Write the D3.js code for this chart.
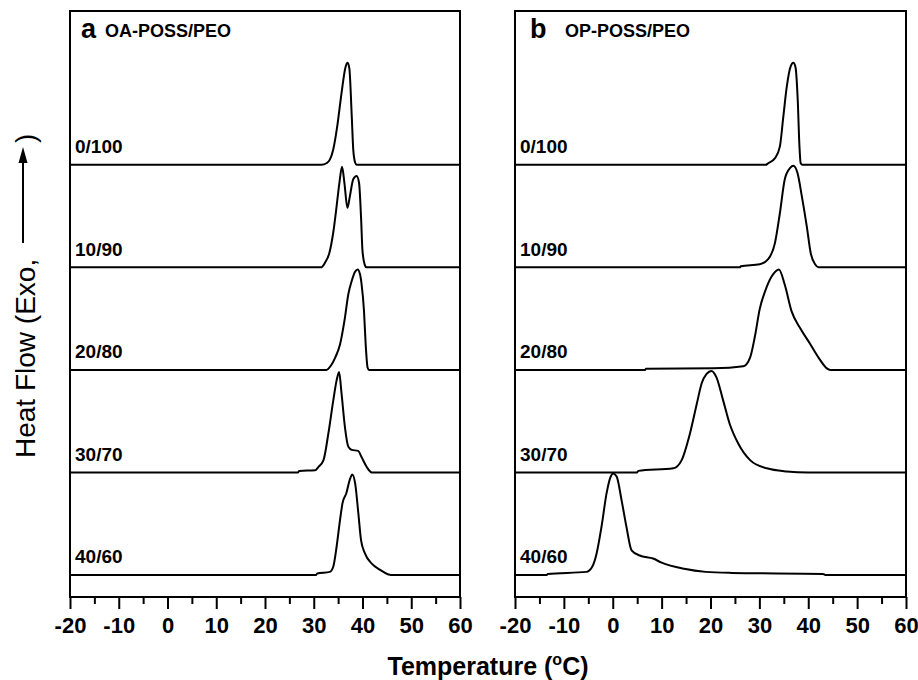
<!DOCTYPE html>
<html>
<head>
<meta charset="utf-8">
<script src="https://cdn.jsdelivr.net/npm/d3@7"></script>
<style>
  body { margin: 0; background: #fff; }
  text { font-family: Arial, "Liberation Sans", sans-serif; fill: #000; }
</style>
</head>
<body>
<div id="chart"></div>
<script>
// compositions, top to bottom
var compositions = ["0/100", "10/90", "20/80", "30/70", "40/60"];
var panelNames = ["OA-POSS/PEO", "OP-POSS/PEO"];
var panelLetters = ["a", "b"];
var majorTicks = [-20, -10, 0, 10, 20, 30, 40, 50, 60];
var minorTicks = [-15, -5, 5, 15, 25, 35, 45, 55];

// [temperature, relative heat flow]
var oa0 = [[-20,0],[31.6,0],[32.6,0.015],[33.3,0.05],[34.0,0.15],[34.8,0.37],[35.7,0.70],[36.5,0.95],[36.95,0.995],[37.3,0.94],[37.8,0.47],[38.1,0.15],[38.5,0.02],[38.8,0],[60,0]];
var oa1 = [[-20,0],[31.5,0],[32.3,0.045],[33.2,0.14],[34.0,0.34],[34.7,0.6],[35.25,0.82],[35.8,0.98],[36.3,0.82],[36.9,0.58],[37.4,0.69],[38.1,0.86],[38.8,0.89],[39.3,0.82],[39.7,0.49],[40.0,0.16],[40.5,0.02],[40.8,0],[60,0]];
var oa2 = [[-20,0],[32.6,0],[33.5,0.04],[34.4,0.12],[35.4,0.25],[36.3,0.48],[37.1,0.74],[37.8,0.87],[38.5,0.96],[39.0,0.98],[39.5,0.93],[39.8,0.84],[40.3,0.58],[40.65,0.25],[41.05,0.02],[41.3,0],[60,0]];
var oa3 = [[-20,0],[26.8,0],[27.0,0.015],[30.3,0.02],[30.9,0.05],[32.0,0.12],[33.0,0.38],[34.0,0.70],[34.7,0.9],[35.2,0.98],[35.7,0.77],[36.4,0.44],[37.1,0.25],[37.8,0.22],[39.1,0.21],[39.8,0.15],[40.9,0.05],[41.9,0],[60,0]];
var oa4 = [[-20,0],[30.5,0],[30.7,0.015],[33.3,0.03],[34.0,0.08],[34.7,0.28],[35.4,0.54],[35.9,0.70],[36.7,0.80],[37.4,0.93],[37.9,0.98],[38.5,0.89],[39.15,0.60],[39.7,0.34],[40.5,0.21],[41.9,0.11],[43.6,0.05],[45.3,0.005],[45.8,0],[60,0]];

var op0 = [[-20,0],[31.3,0],[31.8,0.015],[33.2,0.065],[34.2,0.18],[34.9,0.47],[35.6,0.76],[36.4,0.96],[36.95,0.995],[37.4,0.95],[37.85,0.63],[38.2,0.18],[38.45,0.015],[38.8,0],[60,0]];
var op1 = [[-20,0],[26.0,0],[26.2,0.01],[30.1,0.03],[31.8,0.08],[33.2,0.24],[34.2,0.53],[35.2,0.86],[36.3,0.97],[36.95,0.99],[37.8,0.92],[38.7,0.69],[39.7,0.40],[40.5,0.14],[41.4,0.03],[42.1,0],[60,0]];
var op2 = [[-20,0],[6.6,0],[6.8,0.01],[20.6,0.015],[26.7,0.035],[28.1,0.12],[29.1,0.33],[30.1,0.6],[31.2,0.77],[32.5,0.91],[34.0,0.98],[35.2,0.83],[36.6,0.57],[38.3,0.41],[40.3,0.26],[42.1,0.12],[43.8,0.015],[44.5,0],[60,0]];
var op3 = [[-20,0],[5.0,0],[5.2,0.015],[12.4,0.04],[14.1,0.12],[15.8,0.38],[17.2,0.67],[18.2,0.87],[19.2,0.96],[20.2,0.99],[21.2,0.93],[22.6,0.7],[23.95,0.47],[25.7,0.28],[28.1,0.12],[31.5,0.04],[35.6,0.01],[40,0],[60,0]];
var op4 = [[-20,0],[-13.5,0],[-13.3,0.01],[-5.4,0.03],[-4.2,0.08],[-3.3,0.21],[-2.3,0.47],[-1.25,0.80],[-0.5,0.95],[0.1,0.99],[0.8,0.96],[1.8,0.73],[2.8,0.47],[3.85,0.24],[5.5,0.19],[8.25,0.16],[10,0.12],[14.6,0.06],[19,0.03],[24.3,0.02],[43,0.01],[43.5,0],[60,0]];

var oaCurves = [oa0, oa1, oa2, oa3, oa4];
var opCurves = [op0, op1, op2, op3, op4];

var svgWidth = 918;
var svgHeight = 680;

var svg = d3.select("#chart")
  .append("svg")
  .attr("width", svgWidth)
  .attr("height", svgHeight);

// each row is one unit tall, bottom row sits at 0
var yScale = d3.scaleLinear()
  .domain([-0.215, 5.5])
  .range([597, 11]);

var panels = [
  { x: d3.scaleLinear().domain([-20, 60]).range([70, 460]), curves: oaCurves },
  { x: d3.scaleLinear().domain([-20, 60]).range([515, 906]), curves: opCurves }
];

panels.forEach(function(p, pi) {
  var g = svg.append("g");
  var x = p.x;
  var x0 = x.range()[0], x1 = x.range()[1];
  var yTop = yScale.range()[1], yBot = yScale.range()[0];

  // traces
  p.curves.forEach(function(pts, i) {
    var offset = compositions.length - 1 - i;
    var line = d3.line()
      .x(d => x(d[0]))
      .y(d => yScale(offset + d[1]))
      .curve(d3.curveMonotoneX);

    g.append("path")
      .datum(pts)
      .attr("d", line)
      .attr("fill", "none")
      .attr("stroke", "#000")
      .attr("stroke-width", 2)
      .attr("stroke-linejoin", "round");

    g.append("text")
      .attr("x", x0 + 5)
      .attr("y", yScale(offset) - 11.5)
      .attr("font-size", 19)
      .attr("font-weight", "bold")
      .text(compositions[i]);
  });

  // frame
  g.append("rect")
    .attr("x", x0)
    .attr("y", yTop)
    .attr("width", x1 - x0)
    .attr("height", yBot - yTop)
    .attr("fill", "none")
    .attr("stroke", "#000")
    .attr("stroke-width", 2);

  // axis
  var bottomAxis = d3.axisBottom(x)
    .tickValues(majorTicks)
    .tickSize(12)
    .tickPadding(8)
    .tickFormat(d => String(d));

  var ax = g.append("g")
    .attr("transform", `translate(0, ${yBot})`)
    .call(bottomAxis);
  ax.select(".domain").remove();
  ax.selectAll("line").attr("stroke", "#000").attr("stroke-width", 2);
  ax.selectAll("text")
    .attr("font-size", 22)
    .attr("font-weight", "bold")
    .attr("font-family", "Arial, 'Liberation Sans', sans-serif")
    .attr("fill", "#000");

  var minorAxis = g.append("g")
    .attr("transform", `translate(0, ${yBot})`)
    .call(d3.axisBottom(x).tickValues(minorTicks).tickSize(7).tickFormat(""));
  minorAxis.select(".domain").remove();
  minorAxis.selectAll("line").attr("stroke", "#000").attr("stroke-width", 2);

  // panel title
  g.append("text")
    .attr("x", x0 + (pi == 0 ? 11 : 15))
    .attr("y", 38)
    .attr("font-size", 27)
    .attr("font-weight", "bold")
    .text(panelLetters[pi]);

  g.append("text")
    .attr("x", x0 + (pi == 0 ? 35 : 50))
    .attr("y", 37)
    .attr("font-size", 18)
    .attr("font-weight", "bold")
    .text(panelNames[pi]);
});

// x axis title
var xTitle = svg.append("text")
  .attr("x", 488)
  .attr("y", 675)
  .attr("text-anchor", "middle")
  .attr("font-size", 25)
  .attr("font-weight", "bold");
xTitle.append("tspan").text("Temperature (");
xTitle.append("tspan").attr("font-size", 16).attr("dy", -10).text("o");
xTitle.append("tspan").attr("dy", 10).text("C)");

// y axis title with arrow
svg.append("text")
  .attr("transform", "translate(35, 458) rotate(-90)")
  .attr("font-size", 28)
  .text("Heat Flow (Exo,");

svg.append("line")
  .attr("x1", 23).attr("y1", 243)
  .attr("x2", 23).attr("y2", 160)
  .attr("stroke", "#000")
  .attr("stroke-width", 2);

svg.append("path")
  .attr("d", "M23,147 L18.5,163 L27.5,163 Z")
  .attr("fill", "#000");

svg.append("text")
  .attr("transform", "translate(35, 143) rotate(-90)")
  .attr("font-size", 28)
  .text(")");
</script>
</body>
</html>
